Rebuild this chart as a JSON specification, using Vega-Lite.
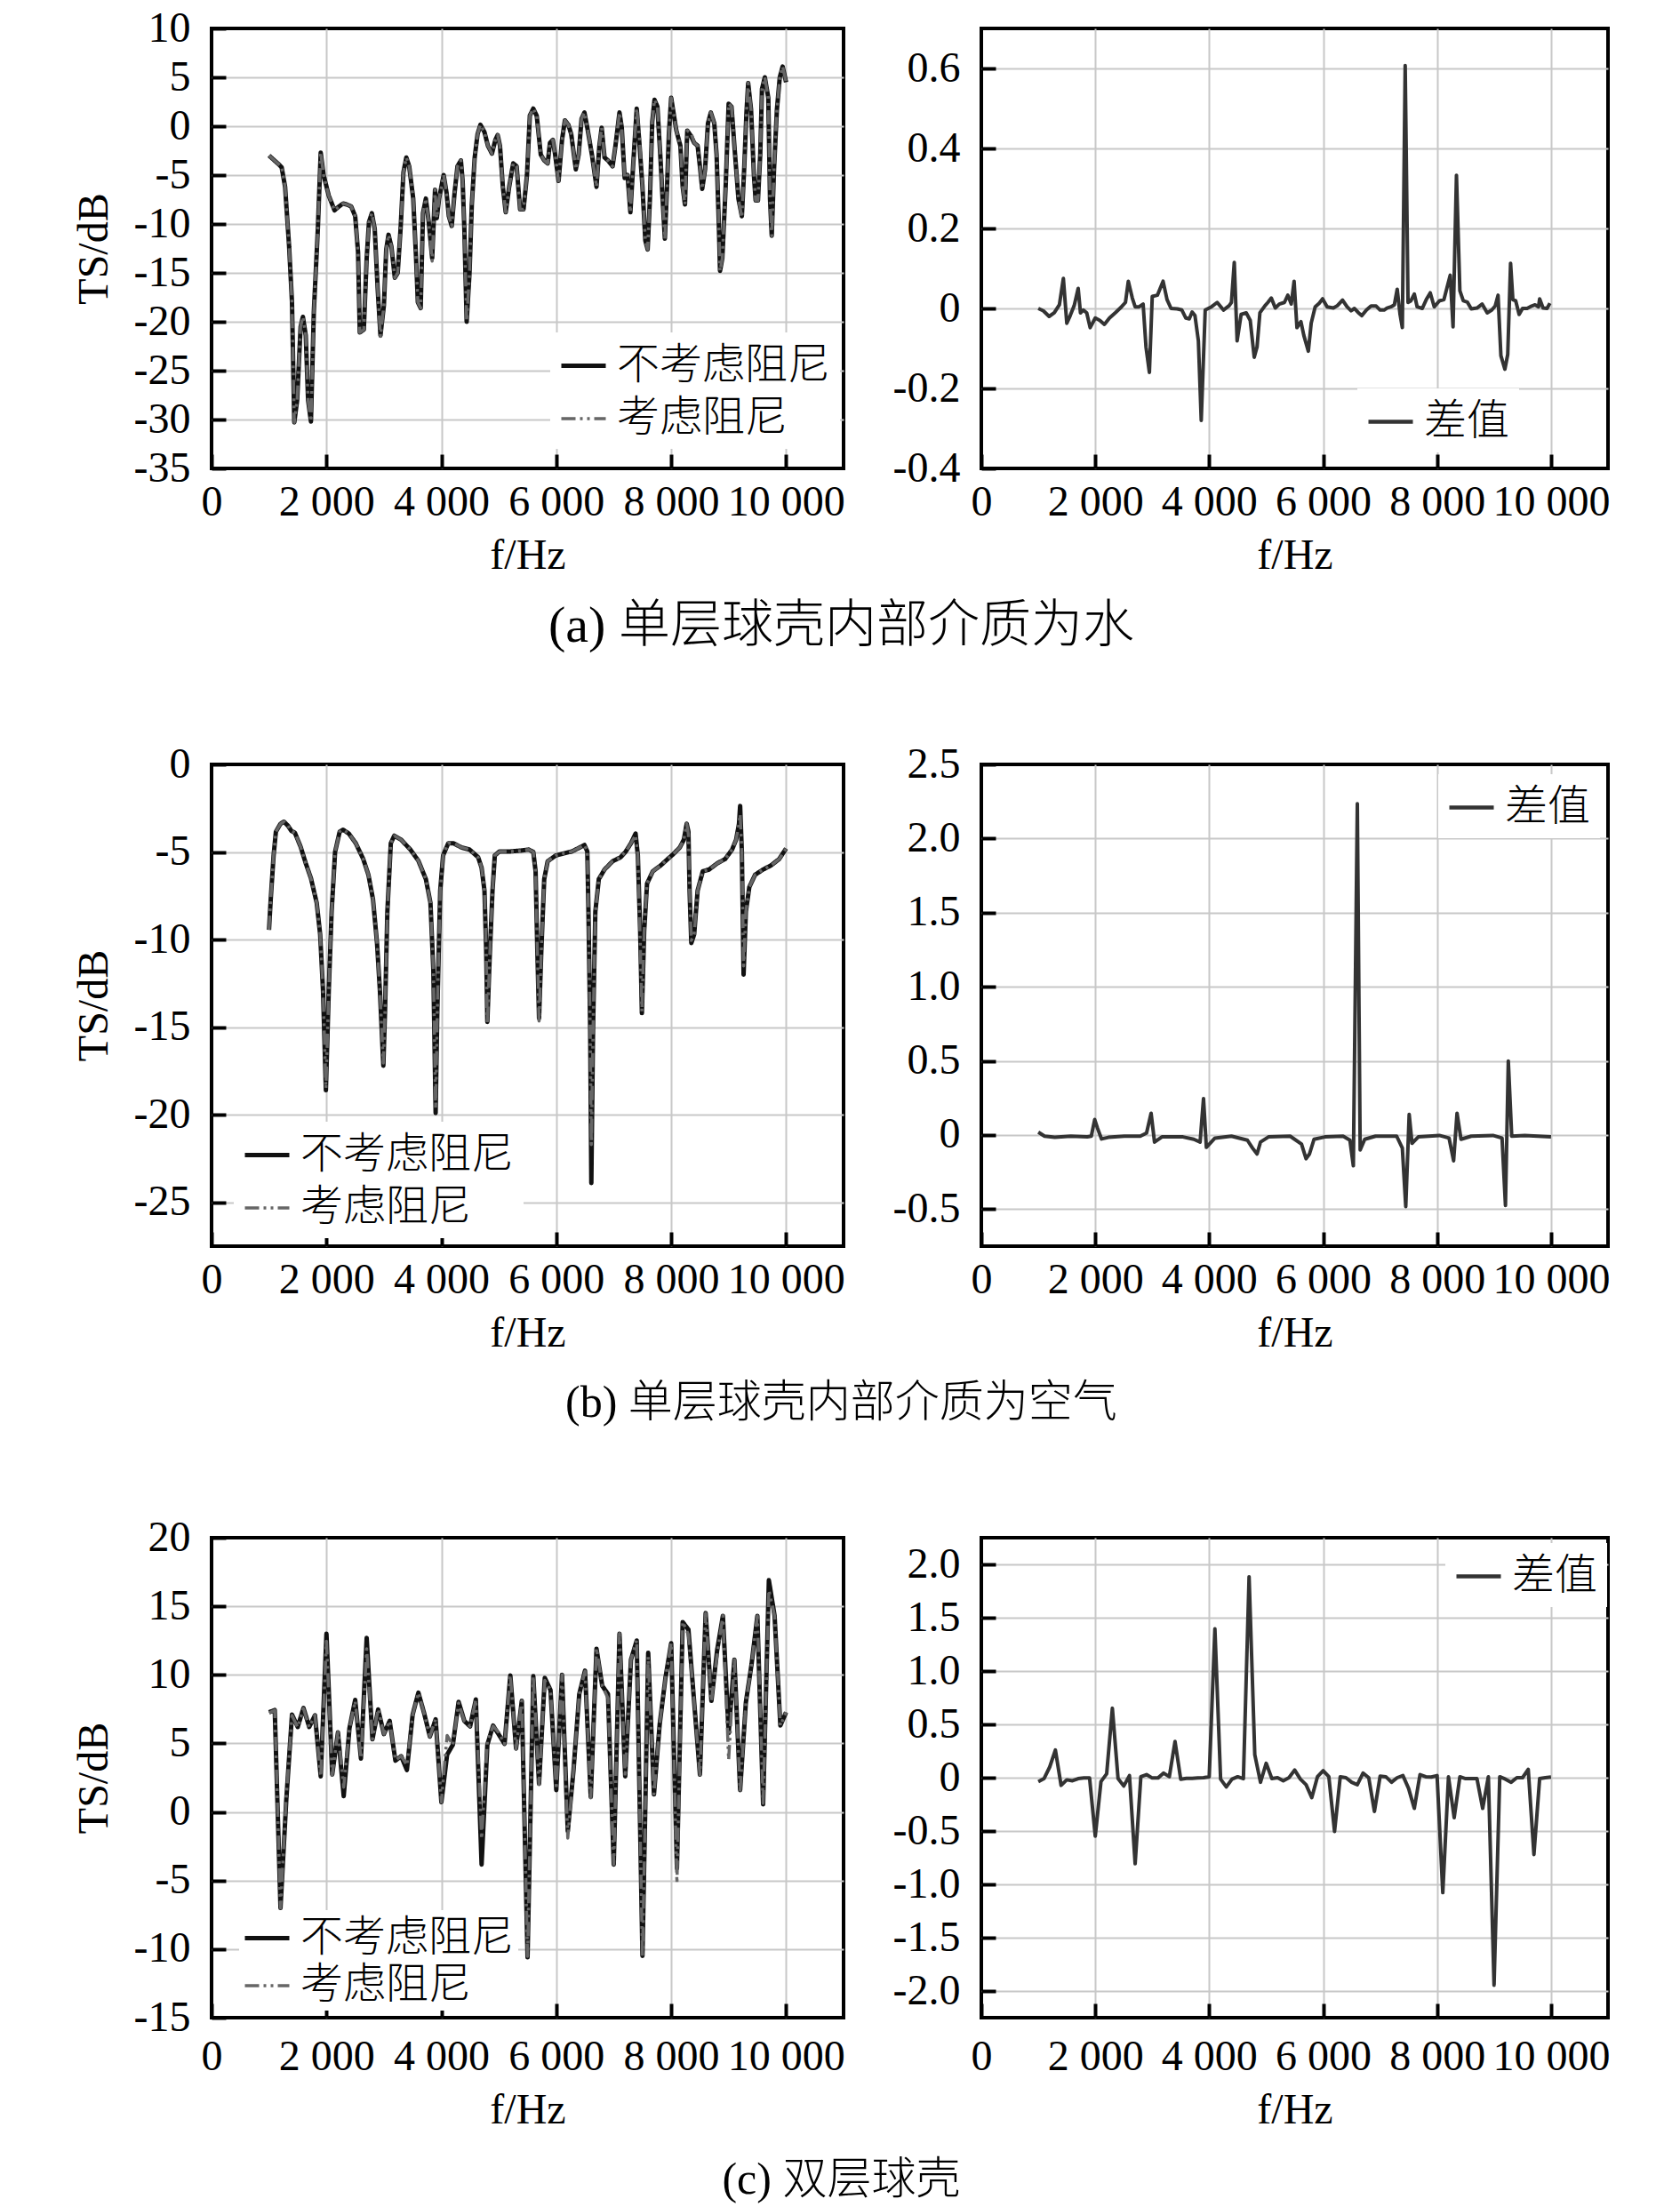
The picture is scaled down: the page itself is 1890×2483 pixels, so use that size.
{
"$schema": "https://vega.github.io/schema/vega-lite/v6.json",
"background": "white",
"padding": {"left": 80, "top": 6, "right": 5, "bottom": 5},
"config": {
  "font": "'Liberation Serif', 'Noto Sans CJK SC', serif",
  "view": {"stroke": "#000000", "strokeWidth": 4},
  "axis": {"grid": true, "gridColor": "#c8c8c8", "gridWidth": 2, "domain": false, "tickColor": "#000000", "tickWidth": 4, "tickSize": -16, "labelFontSize": 48, "labelColor": "#000000", "titleFontSize": 48, "titleFontWeight": "normal", "titleColor": "#000000", "labelOverlap": false, "labelFlush": false, "labelBound": false},
  "axisX": {"labelPadding": 30, "titlePadding": 12},
  "axisY": {"labelPadding": 40, "titlePadding": 20},
  "legend": {"fillColor": "white", "padding": 10, "labelFontSize": 48, "labelColor": "#000000", "labelLimit": 0, "symbolType": "stroke", "symbolSize": 2500, "symbolStrokeWidth": 4.5, "labelOffset": 10, "labelFontWeight": 300},
  "title": {"fontSize": 50, "fontWeight": 300, "color": "#000000"},
  "line": {"strokeJoin": "round"}
},
"datasets": {
"aL": [
{"f":1000,"u":-3.0,"d":-3.0},{"f":1170,"u":-3.9,"d":-3.9},{"f":1220,"u":-4.2,"d":-4.2},{"f":1280,"u":-6.2,"d":-6.2},{"f":1350,"u":-12.3,"d":-12.3},{"f":1400,"u":-18,"d":-18},{"f":1440,"u":-30.3,"d":-30.3},{"f":1490,"u":-28,"d":-28},{"f":1550,"u":-20.5,"d":-20.5},{"f":1590,"u":-19.5,"d":-19.5},{"f":1640,"u":-21.4,"d":-21.4},{"f":1680,"u":-28,"d":-28},{"f":1730,"u":-30.2,"d":-30.2},{"f":1780,"u":-19,"d":-19},{"f":1850,"u":-10.5,"d":-10.5},{"f":1900,"u":-2.7,"d":-2.7},{"f":1950,"u":-5,"d":-5},{"f":2040,"u":-7.1,"d":-7.1},{"f":2140,"u":-8.6,"d":-8.6},{"f":2220,"u":-8.2,"d":-8.2},{"f":2290,"u":-7.9,"d":-7.9},{"f":2350,"u":-8,"d":-8},{"f":2430,"u":-8.2,"d":-8.2},{"f":2500,"u":-9.2,"d":-9.2},{"f":2550,"u":-12.9,"d":-12.9},{"f":2580,"u":-21.1,"d":-21.1},{"f":2650,"u":-20.8,"d":-20.8},{"f":2700,"u":-13.5,"d":-13.5},{"f":2740,"u":-9.8,"d":-9.8},{"f":2790,"u":-8.9,"d":-8.9},{"f":2840,"u":-10.5,"d":-10.5},{"f":2890,"u":-16.5,"d":-16.5},{"f":2940,"u":-21.4,"d":-21.5},{"f":3000,"u":-18.3,"d":-18.3},{"f":3040,"u":-12.6,"d":-12.6},{"f":3080,"u":-11.1,"d":-11.1},{"f":3130,"u":-12.3,"d":-12.3},{"f":3190,"u":-15.5,"d":-15.5},{"f":3240,"u":-15,"d":-15},{"f":3290,"u":-10.5,"d":-10.5},{"f":3340,"u":-4.7,"d":-4.7},{"f":3390,"u":-3.2,"d":-3.2},{"f":3440,"u":-4.1,"d":-4.1},{"f":3510,"u":-7.4,"d":-7.4},{"f":3560,"u":-13.5,"d":-13.5},{"f":3590,"u":-18,"d":-18},{"f":3640,"u":-18.6,"d":-18.6},{"f":3680,"u":-8.9,"d":-8.9},{"f":3730,"u":-7.4,"d":-7.4},{"f":3780,"u":-9.8,"d":-9.8},{"f":3840,"u":-13.5,"d":-13.8},{"f":3890,"u":-6.5,"d":-6.5},{"f":3920,"u":-9.4,"d":-9.4},{"f":3960,"u":-7.4,"d":-7.4},{"f":4040,"u":-5,"d":-5},{"f":4090,"u":-6.8,"d":-6.8},{"f":4130,"u":-9.2,"d":-9.2},{"f":4180,"u":-10.2,"d":-10.2},{"f":4230,"u":-6.8,"d":-6.8},{"f":4280,"u":-4.1,"d":-4.1},{"f":4340,"u":-3.5,"d":-3.5},{"f":4370,"u":-5.6,"d":-5.6},{"f":4400,"u":-10.5,"d":-10.5},{"f":4440,"u":-20,"d":-19.9},{"f":4490,"u":-15,"d":-15},{"f":4530,"u":-8,"d":-8},{"f":4580,"u":-3.2,"d":-3.2},{"f":4630,"u":-0.8,"d":-0.8},{"f":4680,"u":0.15,"d":0.15},{"f":4750,"u":-0.6,"d":-0.6},{"f":4810,"u":-2,"d":-2},{"f":4880,"u":-2.8,"d":-2.8},{"f":4940,"u":-1.4,"d":-1.4},{"f":4980,"u":-0.9,"d":-0.9},{"f":5020,"u":-2,"d":-2},{"f":5070,"u":-6.2,"d":-6.2},{"f":5120,"u":-8.8,"d":-8.8},{"f":5180,"u":-6.2,"d":-6.2},{"f":5250,"u":-3.8,"d":-3.8},{"f":5310,"u":-4.1,"d":-4.1},{"f":5370,"u":-8.5,"d":-8.5},{"f":5430,"u":-8.5,"d":-8.5},{"f":5490,"u":-5,"d":-5},{"f":5540,"u":1.1,"d":1.1},{"f":5600,"u":1.8,"d":1.8},{"f":5660,"u":1.06,"d":1.06},{"f":5730,"u":-2.9,"d":-2.9},{"f":5790,"u":-3.5,"d":-3.5},{"f":5850,"u":-3.8,"d":-3.8},{"f":5890,"u":-1.7,"d":-1.7},{"f":5940,"u":-1.4,"d":-1.4},{"f":5980,"u":-2.9,"d":-2.9},{"f":6040,"u":-5.6,"d":-5.6},{"f":6100,"u":-1.4,"d":-1.4},{"f":6150,"u":0.6,"d":0.6},{"f":6210,"u":0.15,"d":0.15},{"f":6260,"u":-0.8,"d":-0.8},{"f":6340,"u":-4.4,"d":-4.4},{"f":6390,"u":-2.9,"d":-2.9},{"f":6440,"u":0.76,"d":0.76},{"f":6490,"u":1.4,"d":1.4},{"f":6540,"u":-0.15,"d":-0.15},{"f":6620,"u":-2.9,"d":-2.9},{"f":6700,"u":-6.2,"d":-6.2},{"f":6750,"u":-2,"d":-2},{"f":6790,"u":-0.15,"d":-0.15},{"f":6840,"u":-3.2,"d":-3.2},{"f":6900,"u":-3.5,"d":-3.5},{"f":6980,"u":-4.1,"d":-4.1},{"f":7030,"u":-2,"d":-2},{"f":7100,"u":1.4,"d":1.4},{"f":7140,"u":-0.15,"d":-0.15},{"f":7190,"u":-5.3,"d":-5.3},{"f":7240,"u":-5,"d":-5},{"f":7290,"u":-8.8,"d":-8.8},{"f":7340,"u":-3.8,"d":-3.8},{"f":7400,"u":1.8,"d":1.8},{"f":7450,"u":-2,"d":-1.4},{"f":7500,"u":-6.2,"d":-6.2},{"f":7550,"u":-11.7,"d":-11.7},{"f":7590,"u":-12.6,"d":-12.6},{"f":7630,"u":-7.4,"d":-7.4},{"f":7670,"u":0.45,"d":0.45},{"f":7710,"u":2.7,"d":2.7},{"f":7760,"u":2,"d":2},{"f":7810,"u":-2.9,"d":-2.9},{"f":7850,"u":-7.4,"d":-7.4},{"f":7890,"u":-11.5,"d":-11.5},{"f":7930,"u":-5.9,"d":-5.9},{"f":7960,"u":-0.76,"d":-0.76},{"f":8000,"u":2.9,"d":2.9},{"f":8040,"u":1.4,"d":1.4},{"f":8090,"u":-0.45,"d":-0.45},{"f":8160,"u":-2,"d":-2},{"f":8200,"u":-6.2,"d":-6.2},{"f":8240,"u":-8,"d":-8},{"f":8270,"u":-2,"d":-2},{"f":8280,"u":-0.45,"d":-0.45},{"f":8350,"u":-1.06,"d":-0.73},{"f":8400,"u":-1.7,"d":-1.7},{"f":8460,"u":-2,"d":-2},{"f":8500,"u":-4.1,"d":-4.1},{"f":8540,"u":-6.4,"d":-6.4},{"f":8590,"u":-4.4,"d":-4.4},{"f":8640,"u":0.3,"d":0.3},{"f":8690,"u":1.4,"d":1.4},{"f":8750,"u":0.3,"d":0.3},{"f":8790,"u":-2.9,"d":-2.9},{"f":8830,"u":-10.2,"d":-10.2},{"f":8850,"u":-14.8,"d":-14.8},{"f":8890,"u":-13.5,"d":-13.5},{"f":8950,"u":-5.9,"d":-5.9},{"f":9000,"u":2.3,"d":2.3},{"f":9050,"u":2,"d":2},{"f":9100,"u":-2,"d":-2},{"f":9170,"u":-7.4,"d":-7.4},{"f":9230,"u":-9.2,"d":-9.35},{"f":9270,"u":-4.4,"d":-4.4},{"f":9310,"u":1.4,"d":1.4},{"f":9340,"u":4.4,"d":4.4},{"f":9390,"u":1.7,"d":1.7},{"f":9440,"u":-5,"d":-5},{"f":9470,"u":-7.6,"d":-7.6},{"f":9510,"u":-7.6,"d":-7.6},{"f":9550,"u":-2.9,"d":-2.9},{"f":9580,"u":3.8,"d":3.8},{"f":9630,"u":5,"d":5},{"f":9690,"u":2.9,"d":2.9},{"f":9720,"u":-7.4,"d":-7.4},{"f":9750,"u":-11.2,"d":-11.2},{"f":9790,"u":-4.4,"d":-4.4},{"f":9840,"u":1.7,"d":1.7},{"f":9890,"u":5,"d":5},{"f":9940,"u":6.1,"d":6.1},{"f":10000,"u":4.5,"d":4.5}
],
"aR": [
{"f":1000,"v":0},{"f":1090,"v":-0.006},{"f":1190,"v":-0.02},{"f":1280,"v":-0.011},{"f":1370,"v":0.009},{"f":1440,"v":0.075},{"f":1500,"v":-0.037},{"f":1560,"v":-0.018},{"f":1630,"v":0.007},{"f":1700,"v":0.05},{"f":1740,"v":-0.011},{"f":1790,"v":-0.004},{"f":1850,"v":-0.011},{"f":1910,"v":-0.048},{"f":2000,"v":-0.024},{"f":2080,"v":-0.03},{"f":2160,"v":-0.04},{"f":2250,"v":-0.024},{"f":2350,"v":-0.011},{"f":2460,"v":0.004},{"f":2530,"v":0.015},{"f":2580,"v":0.068},{"f":2650,"v":0.026},{"f":2700,"v":0.004},{"f":2770,"v":0.004},{"f":2840,"v":0.011},{"f":2890,"v":-0.096},{"f":2950,"v":-0.16},{"f":3000,"v":0.03},{"f":3090,"v":0.033},{"f":3190,"v":0.068},{"f":3260,"v":0.022},{"f":3330,"v":0},{"f":3440,"v":-0.001},{"f":3520,"v":-0.004},{"f":3590,"v":-0.024},{"f":3650,"v":-0.026},{"f":3700,"v":-0.009},{"f":3750,"v":-0.018},{"f":3810,"v":-0.081},{"f":3860,"v":-0.28},{"f":3930,"v":-0.004},{"f":4040,"v":0.004},{"f":4140,"v":0.015},{"f":4250,"v":-0.004},{"f":4350,"v":0.007},{"f":4390,"v":0.015},{"f":4440,"v":0.115},{"f":4490,"v":-0.081},{"f":4560,"v":-0.015},{"f":4650,"v":-0.011},{"f":4720,"v":-0.03},{"f":4790,"v":-0.122},{"f":4840,"v":-0.096},{"f":4890,"v":-0.011},{"f":4980,"v":0.007},{"f":5030,"v":0.015},{"f":5090,"v":0.026},{"f":5160,"v":0.001},{"f":5230,"v":0.011},{"f":5320,"v":0.015},{"f":5380,"v":0.033},{"f":5440,"v":0.011},{"f":5490,"v":0.068},{"f":5540,"v":-0.048},{"f":5610,"v":-0.033},{"f":5660,"v":-0.067},{"f":5740,"v":-0.107},{"f":5790,"v":-0.037},{"f":5860,"v":0.004},{"f":5930,"v":0.013},{"f":5990,"v":0.024},{"f":6070,"v":0.004},{"f":6180,"v":0.001},{"f":6250,"v":0.007},{"f":6340,"v":0.021},{"f":6420,"v":0.004},{"f":6490,"v":-0.006},{"f":6550,"v":0},{"f":6620,"v":-0.011},{"f":6680,"v":-0.018},{"f":6760,"v":-0.004},{"f":6840,"v":0.006},{"f":6930,"v":0.006},{"f":7000,"v":-0.004},{"f":7070,"v":-0.004},{"f":7120,"v":0.001},{"f":7190,"v":0.004},{"f":7250,"v":0.009},{"f":7300,"v":0.048},{"f":7350,"v":-0.015},{"f":7390,"v":-0.048},{"f":7440,"v":0.607},{"f":7490,"v":0.015},{"f":7540,"v":0.019},{"f":7600,"v":0.036},{"f":7650,"v":0.004},{"f":7740,"v":0},{"f":7810,"v":0.022},{"f":7880,"v":0.039},{"f":7950,"v":0.004},{"f":8040,"v":0.019},{"f":8120,"v":0.022},{"f":8230,"v":0.083},{"f":8280,"v":-0.046},{"f":8340,"v":0.333},{"f":8400,"v":0.044},{"f":8460,"v":0.019},{"f":8530,"v":0.016},{"f":8600,"v":-0.001},{"f":8700,"v":0.001},{"f":8790,"v":0.011},{"f":8880,"v":-0.011},{"f":8960,"v":-0.004},{"f":9020,"v":0.006},{"f":9070,"v":0.033},{"f":9120,"v":-0.118},{"f":9190,"v":-0.152},{"f":9240,"v":-0.115},{"f":9290,"v":0.113},{"f":9330,"v":0.022},{"f":9380,"v":0.019},{"f":9440,"v":-0.015},{"f":9500,"v":0},{"f":9580,"v":0},{"f":9660,"v":0.006},{"f":9720,"v":0.009},{"f":9780,"v":0.004},{"f":9800,"v":0.024},{"f":9860,"v":0.001},{"f":9930,"v":0},{"f":9980,"v":0.013}
],
"bL": [
{"f":1000,"u":-9.44,"d":-9.44},{"f":1030,"u":-7.7,"d":-7.7},{"f":1080,"u":-5.2,"d":-5.2},{"f":1120,"u":-3.84,"d":-3.84},{"f":1200,"u":-3.39,"d":-3.39},{"f":1260,"u":-3.27,"d":-3.27},{"f":1330,"u":-3.5,"d":-3.5},{"f":1390,"u":-3.8,"d":-3.8},{"f":1450,"u":-3.9,"d":-3.9},{"f":1550,"u":-4.7,"d":-4.7},{"f":1640,"u":-5.65,"d":-5.65},{"f":1730,"u":-6.5,"d":-6.5},{"f":1830,"u":-7.9,"d":-7.9},{"f":1890,"u":-9.7,"d":-9.7},{"f":1940,"u":-12.9,"d":-12.9},{"f":1990,"u":-18.6,"d":-18.5},{"f":2040,"u":-12.9,"d":-12.9},{"f":2090,"u":-8.4,"d":-8.4},{"f":2150,"u":-5,"d":-5},{"f":2230,"u":-3.84,"d":-3.84},{"f":2290,"u":-3.73,"d":-3.73},{"f":2390,"u":-3.95,"d":-3.95},{"f":2510,"u":-4.5,"d":-4.5},{"f":2640,"u":-5.4,"d":-5.4},{"f":2730,"u":-6.3,"d":-6.3},{"f":2810,"u":-7.7,"d":-7.7},{"f":2880,"u":-10.2,"d":-10.2},{"f":2930,"u":-12.9,"d":-12.9},{"f":2990,"u":-17.2,"d":-17.05},{"f":3020,"u":-14,"d":-14},{"f":3060,"u":-8.4,"d":-8.4},{"f":3120,"u":-4.5,"d":-4.5},{"f":3180,"u":-4.07,"d":-4.07},{"f":3300,"u":-4.3,"d":-4.3},{"f":3460,"u":-4.86,"d":-4.86},{"f":3600,"u":-5.5,"d":-5.5},{"f":3730,"u":-6.55,"d":-6.55},{"f":3810,"u":-7.9,"d":-7.9},{"f":3860,"u":-11.7,"d":-11.7},{"f":3900,"u":-19.9,"d":-19.65},{"f":3930,"u":-14,"d":-14},{"f":3980,"u":-7.2,"d":-7.2},{"f":4030,"u":-5.2,"d":-5.2},{"f":4120,"u":-4.5,"d":-4.5},{"f":4210,"u":-4.5,"d":-4.5},{"f":4350,"u":-4.74,"d":-4.74},{"f":4490,"u":-4.86,"d":-4.86},{"f":4640,"u":-5.3,"d":-5.3},{"f":4700,"u":-5.9,"d":-5.9},{"f":4750,"u":-7.2,"d":-7.2},{"f":4780,"u":-10.6,"d":-10.6},{"f":4800,"u":-14.7,"d":-14.8},{"f":4840,"u":-11.1,"d":-11.1},{"f":4890,"u":-7.2,"d":-7.2},{"f":4930,"u":-5.2,"d":-5.2},{"f":5010,"u":-4.97,"d":-4.97},{"f":5200,"u":-4.97,"d":-4.97},{"f":5380,"u":-4.92,"d":-4.92},{"f":5520,"u":-4.86,"d":-4.86},{"f":5600,"u":-5,"d":-5},{"f":5640,"u":-6.1,"d":-6.1},{"f":5670,"u":-10.6,"d":-10.6},{"f":5700,"u":-14.5,"d":-14.65},{"f":5740,"u":-10.6,"d":-10.6},{"f":5790,"u":-6.55,"d":-6.55},{"f":5850,"u":-5.53,"d":-5.53},{"f":5990,"u":-5.2,"d":-5.2},{"f":6130,"u":-5.08,"d":-5.08},{"f":6270,"u":-4.97,"d":-4.97},{"f":6410,"u":-4.74,"d":-4.74},{"f":6490,"u":-4.6,"d":-4.6},{"f":6540,"u":-4.97,"d":-4.97},{"f":6560,"u":-8.4,"d":-8.6},{"f":6590,"u":-15.1,"d":-15.1},{"f":6610,"u":-23.9,"d":-21.7},{"f":6640,"u":-15.1,"d":-15.2},{"f":6680,"u":-8.4,"d":-8.4},{"f":6740,"u":-6.55,"d":-6.55},{"f":6840,"u":-6,"d":-6},{"f":6980,"u":-5.53,"d":-5.53},{"f":7120,"u":-5.3,"d":-5.3},{"f":7210,"u":-4.97,"d":-4.97},{"f":7300,"u":-4.5,"d":-4.5},{"f":7380,"u":-3.95,"d":-4.04},{"f":7420,"u":-5.2,"d":-5.2},{"f":7460,"u":-9.5,"d":-9.98},{"f":7490,"u":-14.2,"d":-14.1},{"f":7530,"u":-9.5,"d":-9.5},{"f":7580,"u":-6.8,"d":-6.8},{"f":7680,"u":-6.1,"d":-6.1},{"f":7820,"u":-5.76,"d":-5.76},{"f":7940,"u":-5.4,"d":-5.4},{"f":8050,"u":-5.08,"d":-5.08},{"f":8150,"u":-4.74,"d":-4.74},{"f":8220,"u":-4.3,"d":-4.3},{"f":8270,"u":-3.39,"d":-3.39},{"f":8300,"u":-3.84,"d":-4.0},{"f":8320,"u":-7.2,"d":-7.2},{"f":8350,"u":-10.2,"d":-10.05},{"f":8400,"u":-9.7,"d":-9.7},{"f":8460,"u":-7.2,"d":-7.2},{"f":8550,"u":-6.1,"d":-6.1},{"f":8660,"u":-6,"d":-6},{"f":8800,"u":-5.65,"d":-5.65},{"f":8940,"u":-5.4,"d":-5.4},{"f":9060,"u":-4.86,"d":-4.86},{"f":9130,"u":-4.3,"d":-4.3},{"f":9180,"u":-3.39,"d":-3.39},{"f":9200,"u":-2.37,"d":-2.85},{"f":9230,"u":-5,"d":-5},{"f":9260,"u":-12,"d":-11.5},{"f":9300,"u":-8.4,"d":-8.4},{"f":9360,"u":-7,"d":-7},{"f":9460,"u":-6.3,"d":-6.3},{"f":9600,"u":-6,"d":-6},{"f":9740,"u":-5.76,"d":-5.76},{"f":9880,"u":-5.4,"d":-5.4},{"f":10000,"u":-4.8,"d":-4.8}
],
"bR": [
{"f":1000,"v":0.019},{"f":1110,"v":-0.008},{"f":1290,"v":-0.016},{"f":1570,"v":-0.008},{"f":1860,"v":-0.013},{"f":1930,"v":-0.008},{"f":1990,"v":0.104},{"f":2040,"v":0.045},{"f":2110,"v":-0.027},{"f":2230,"v":-0.016},{"f":2510,"v":-0.008},{"f":2790,"v":-0.008},{"f":2900,"v":0.013},{"f":2980,"v":0.147},{"f":3040,"v":-0.048},{"f":3170,"v":-0.013},{"f":3540,"v":-0.013},{"f":3730,"v":-0.029},{"f":3840,"v":-0.048},{"f":3900,"v":0.246},{"f":3950,"v":-0.083},{"f":4100,"v":-0.021},{"f":4390,"v":-0.008},{"f":4670,"v":-0.035},{"f":4760,"v":-0.088},{"f":4840,"v":-0.128},{"f":4900,"v":-0.048},{"f":5040,"v":-0.013},{"f":5420,"v":-0.008},{"f":5620,"v":-0.061},{"f":5700,"v":-0.16},{"f":5760,"v":-0.128},{"f":5840,"v":-0.029},{"f":6030,"v":-0.013},{"f":6350,"v":-0.008},{"f":6470,"v":-0.035},{"f":6530,"v":-0.208},{"f":6600,"v":2.234},{"f":6650,"v":-0.101},{"f":6730,"v":-0.029},{"f":6920,"v":-0.008},{"f":7290,"v":-0.008},{"f":7390,"v":-0.088},{"f":7450,"v":-0.483},{"f":7510,"v":0.139},{"f":7560,"v":-0.056},{"f":7670,"v":-0.013},{"f":8040,"v":-0.003},{"f":8210,"v":-0.021},{"f":8290,"v":-0.174},{"f":8350,"v":0.147},{"f":8420,"v":-0.029},{"f":8600,"v":-0.008},{"f":8980,"v":-0.003},{"f":9140,"v":-0.021},{"f":9200,"v":-0.475},{"f":9250,"v":0.499},{"f":9310,"v":-0.008},{"f":9540,"v":-0.003},{"f":10000,"v":-0.013}
],
"cL": [
{"f":1000,"u":7.27,"d":7.23},{"f":1100,"u":7.43,"d":7.42},{"f":1200,"u":-7.0,"d":-7.0},{"f":1300,"u":0.83,"d":1.09},{"f":1400,"u":7.1,"d":7.03},{"f":1500,"u":6.2,"d":6.18},{"f":1600,"u":7.58,"d":7.55},{"f":1700,"u":6.2,"d":6.19},{"f":1800,"u":7.05,"d":7.05},{"f":1900,"u":2.6,"d":2.6},{"f":2000,"u":13.0,"d":12.45},{"f":2100,"u":2.73,"d":2.69},{"f":2200,"u":5.8,"d":5.84},{"f":2300,"u":1.16,"d":1.81},{"f":2400,"u":6.1,"d":6.09},{"f":2500,"u":8.17,"d":8.09},{"f":2600,"u":3.9,"d":3.92},{"f":2700,"u":12.7,"d":11.9},{"f":2800,"u":5.3,"d":5.31},{"f":2900,"u":7.47,"d":7.5},{"f":3000,"u":5.68,"d":5.68},{"f":3100,"u":6.64,"d":6.64},{"f":3200,"u":3.74,"d":3.78},{"f":3300,"u":4.07,"d":4.08},{"f":3400,"u":3.06,"d":3.4},{"f":3500,"u":7.1,"d":7.09},{"f":3600,"u":8.7,"d":8.69},{"f":3700,"u":7.2,"d":7.19},{"f":3800,"u":5.5,"d":5.5},{"f":3900,"u":6.76,"d":6.76},{"f":4000,"u":0.72,"d":0.73},{"f":4100,"u":4.18,"d":5.58},{"f":4200,"u":4.9,"d":4.89},{"f":4300,"u":8.03,"d":7.94},{"f":4400,"u":6.64,"d":6.63},{"f":4500,"u":6.24,"d":6.25},{"f":4600,"u":8.2,"d":8.19},{"f":4700,"u":-3.83,"d":-1.95},{"f":4800,"u":4.9,"d":5.12},{"f":4900,"u":6.3,"d":6.26},{"f":5000,"u":5.64,"d":5.78},{"f":5100,"u":4.97,"d":4.96},{"f":5200,"u":9.96,"d":9.96},{"f":5300,"u":4.63,"d":4.6},{"f":5400,"u":8.1,"d":8.1},{"f":5500,"u":-10.6,"d":-10.53},{"f":5600,"u":9.9,"d":9.89},{"f":5700,"u":2.06,"d":2.0},{"f":5800,"u":9.78,"d":9.59},{"f":5900,"u":8.88,"d":8.89},{"f":6000,"u":1.6,"d":1.67},{"f":6100,"u":10.0,"d":10.01},{"f":6200,"u":-1.4,"d":-1.9},{"f":6300,"u":3.06,"d":3.07},{"f":6400,"u":8.6,"d":8.6},{"f":6500,"u":10.3,"d":10.26},{"f":6600,"u":1.1,"d":1.03},{"f":6700,"u":11.9,"d":11.94},{"f":6800,"u":9.2,"d":9.2},{"f":6900,"u":8.6,"d":8.28},{"f":7000,"u":-3.83,"d":-3.82},{"f":7100,"u":13.0,"d":13.01},{"f":7200,"u":2.6,"d":2.56},{"f":7300,"u":11.1,"d":11.1},{"f":7400,"u":12.5,"d":12.52},{"f":7500,"u":-10.5,"d":-10.6},{"f":7600,"u":11.6,"d":11.31},{"f":7700,"u":1.28,"d":1.31},{"f":7800,"u":6.4,"d":6.41},{"f":7900,"u":9.78,"d":9.79},{"f":8000,"u":12.3,"d":12.32},{"f":8100,"u":-4.1,"d":-5.18},{"f":8200,"u":13.85,"d":13.86},{"f":8300,"u":13.3,"d":12.93},{"f":8400,"u":8.0,"d":8.01},{"f":8500,"u":2.73,"d":2.72},{"f":8600,"u":14.5,"d":14.49},{"f":8700,"u":8.1,"d":8.09},{"f":8800,"u":11.8,"d":11.51},{"f":8900,"u":14.3,"d":14.31},{"f":9000,"u":5.75,"d":3.8},{"f":9100,"u":11.1,"d":11.11},{"f":9200,"u":1.6,"d":1.59},{"f":9300,"u":8.0,"d":7.96},{"f":9400,"u":10.8,"d":10.8},{"f":9500,"u":14.3,"d":14.3},{"f":9600,"u":0.56,"d":0.64},{"f":9700,"u":16.9,"d":16.18},{"f":9800,"u":14.3,"d":14.29},{"f":9900,"u":6.3,"d":6.3},{"f":10000,"u":7.27,"d":7.28}
],
"cR": [
{"f":1000,"v":-0.037},{"f":1100,"v":-0.009},{"f":1200,"v":0.1},{"f":1300,"v":0.26},{"f":1400,"v":-0.072},{"f":1500,"v":-0.02},{"f":1600,"v":-0.029},{"f":1700,"v":-0.009},{"f":1800,"v":-0.003},{"f":1900,"v":-0.003},{"f":2000,"v":-0.548},{"f":2100,"v":-0.037},{"f":2200,"v":0.037},{"f":2300,"v":0.651},{"f":2400,"v":-0.009},{"f":2500,"v":-0.078},{"f":2600,"v":0.02},{"f":2700,"v":-0.807},{"f":2800,"v":0.009},{"f":2900,"v":0.029},{"f":3000,"v":-0.003},{"f":3100,"v":-0.003},{"f":3200,"v":0.043},{"f":3300,"v":0.009},{"f":3400,"v":0.34},{"f":3500,"v":-0.014},{"f":3600,"v":-0.006},{"f":3700,"v":-0.006},{"f":3800,"v":-0.003},{"f":3900,"v":0},{"f":4000,"v":0.009},{"f":4100,"v":1.395},{"f":4200,"v":-0.014},{"f":4300,"v":-0.086},{"f":4400,"v":-0.014},{"f":4500,"v":0.009},{"f":4600,"v":-0.009},{"f":4700,"v":1.884},{"f":4800,"v":0.216},{"f":4900,"v":-0.043},{"f":5000,"v":0.135},{"f":5100,"v":-0.009},{"f":5200,"v":0},{"f":5300,"v":-0.029},{"f":5400,"v":0},{"f":5500,"v":0.072},{"f":5600,"v":-0.014},{"f":5700,"v":-0.066},{"f":5800,"v":-0.187},{"f":5900,"v":0.009},{"f":6000,"v":0.066},{"f":6100,"v":0.009},{"f":6200,"v":-0.504},{"f":6300,"v":0.009},{"f":6400,"v":0},{"f":6500,"v":-0.043},{"f":6600,"v":-0.066},{"f":6700,"v":0.043},{"f":6800,"v":0},{"f":6900,"v":-0.317},{"f":7000,"v":0.014},{"f":7100,"v":0.009},{"f":7200,"v":-0.043},{"f":7300,"v":0},{"f":7400,"v":0.02},{"f":7500,"v":-0.101},{"f":7600,"v":-0.288},{"f":7700,"v":0.029},{"f":7800,"v":0.009},{"f":7900,"v":0.006},{"f":8000,"v":0.02},{"f":8100,"v":-1.078},{"f":8200,"v":0.009},{"f":8300,"v":-0.375},{"f":8400,"v":0.009},{"f":8500,"v":-0.009},{"f":8600,"v":-0.009},{"f":8700,"v":-0.009},{"f":8800,"v":-0.288},{"f":8900,"v":0.009},{"f":9000,"v":-1.945},{"f":9100,"v":0.009},{"f":9200,"v":-0.014},{"f":9300,"v":-0.043},{"f":9400,"v":0},{"f":9500,"v":0},{"f":9600,"v":0.078},{"f":9700,"v":-0.72},{"f":9800,"v":-0.009},{"f":9900,"v":0},{"f":10000,"v":0.006}
]
},
"vconcat": [
{
 "title": {"text": "(a) 单层球壳内部介质为水", "orient": "bottom", "anchor": "middle", "offset": 25, "fontSize": 58},
 "spacing": 49,
 "hconcat": [
  {
   "width": 711, "height": 495,
   "data": {"name": "aL"},
   "transform": [{"fold": ["u", "d"], "as": ["s", "ts"]}],
   "mark": {"type": "line"},
   "encoding": {
    "x": {"field": "f", "type": "quantitative", "scale": {"domain": [0, 11000], "nice": false, "zero": false}, "axis": {"title": "f/Hz", "values": [0, 2000, 4000, 6000, 8000, 10000], "labelExpr": "replace(format(datum.value, ','), ',', ' ')", "gridColor": {"condition": {"test": "datum.value == 0", "value": "transparent"}, "value": "#c8c8c8"}}},
    "y": {"field": "ts", "type": "quantitative", "scale": {"domain": [-35, 10], "nice": false, "zero": false}, "axis": {"title": "TS/dB", "values": [-35, -30, -25, -20, -15, -10, -5, 0, 5, 10], "labelExpr": "(datum.value < 0 ? '-' : '') + format(abs(datum.value), 'd')", "gridColor": {"condition": {"test": "datum.value == 10 || datum.value == -35", "value": "transparent"}, "value": "#c8c8c8"}}},
    "color": {"field": "s", "type": "nominal", "scale": {"domain": ["u", "d"], "range": ["#111111", "#666666"]}, "legend": {"title": null, "orient": "none", "legendX": 381, "legendY": 342, "rowPadding": 8, "labelExpr": "datum.value == 'u' ? '不考虑阻尼' : '考虑阻尼'"}},
    "strokeDash": {"field": "s", "type": "nominal", "scale": {"domain": ["u", "d"], "range": [[1, 0], [16, 5, 3, 5, 3, 5]]}, "legend": {"title": null, "orient": "none", "legendX": 381, "legendY": 342, "rowPadding": 8, "labelExpr": "datum.value == 'u' ? '不考虑阻尼' : '考虑阻尼'"}},
    "strokeWidth": {"field": "s", "type": "nominal", "scale": {"domain": ["u", "d"], "range": [5, 3.5]}, "legend": null}
   }
  },
  {
   "width": 705, "height": 495,
   "data": {"name": "aR"},
   "mark": {"type": "line", "strokeWidth": 4},
   "encoding": {
    "x": {"field": "f", "type": "quantitative", "scale": {"domain": [0, 11000], "nice": false, "zero": false}, "axis": {"title": "f/Hz", "values": [0, 2000, 4000, 6000, 8000, 10000], "labelExpr": "replace(format(datum.value, ','), ',', ' ')", "gridColor": {"condition": {"test": "datum.value == 0", "value": "transparent"}, "value": "#c8c8c8"}}},
    "y": {"field": "v", "type": "quantitative", "scale": {"domain": [-0.4, 0.7], "nice": false, "zero": false}, "axis": {"title": null, "values": [-0.4, -0.2, 0, 0.2, 0.4, 0.6], "labelExpr": "datum.value == 0 ? '0' : (datum.value < 0 ? '-' : '') + format(abs(datum.value), '.1f')", "gridColor": {"condition": {"test": "datum.value == -0.4", "value": "transparent"}, "value": "#c8c8c8"}}},
    "color": {"datum": "差值", "type": "nominal", "scale": {"range": ["#333333"]}, "legend": {"title": null, "orient": "none", "legendX": 423, "legendY": 405}}
   }
  }
 ],
 "resolve": {"scale": {"color": "independent", "strokeDash": "independent", "strokeWidth": "independent", "x": "independent", "y": "independent"}, "legend": {"color": "independent", "strokeDash": "independent"}}
},
{
 "title": {"text": "(b) 单层球壳内部介质为空气", "orient": "bottom", "anchor": "middle", "offset": 28},
 "spacing": 49,
 "hconcat": [
  {
   "width": 711, "height": 542,
   "data": {"name": "bL"},
   "transform": [{"fold": ["u", "d"], "as": ["s", "ts"]}],
   "mark": {"type": "line"},
   "encoding": {
    "x": {"field": "f", "type": "quantitative", "scale": {"domain": [0, 11000], "nice": false, "zero": false}, "axis": {"title": "f/Hz", "values": [0, 2000, 4000, 6000, 8000, 10000], "labelExpr": "replace(format(datum.value, ','), ',', ' ')", "gridColor": {"condition": {"test": "datum.value == 0", "value": "transparent"}, "value": "#c8c8c8"}}},
    "y": {"field": "ts", "type": "quantitative", "scale": {"domain": [-27.5, 0], "nice": false, "zero": false}, "axis": {"title": "TS/dB", "values": [-25, -20, -15, -10, -5, 0], "labelExpr": "(datum.value < 0 ? '-' : '') + format(abs(datum.value), 'd')", "gridColor": {"condition": {"test": "datum.value == 0", "value": "transparent"}, "value": "#c8c8c8"}}},
    "color": {"field": "s", "type": "nominal", "scale": {"domain": ["u", "d"], "range": ["#111111", "#666666"]}, "legend": {"title": null, "orient": "none", "legendX": 25, "legendY": 402, "rowPadding": 8, "labelExpr": "datum.value == 'u' ? '不考虑阻尼' : '考虑阻尼'"}},
    "strokeDash": {"field": "s", "type": "nominal", "scale": {"domain": ["u", "d"], "range": [[1, 0], [16, 5, 3, 5, 3, 5]]}, "legend": {"title": null, "orient": "none", "legendX": 25, "legendY": 402, "rowPadding": 8, "labelExpr": "datum.value == 'u' ? '不考虑阻尼' : '考虑阻尼'"}},
    "strokeWidth": {"field": "s", "type": "nominal", "scale": {"domain": ["u", "d"], "range": [5, 3.5]}, "legend": null}
   }
  },
  {
   "width": 705, "height": 542,
   "data": {"name": "bR"},
   "mark": {"type": "line", "strokeWidth": 4},
   "encoding": {
    "x": {"field": "f", "type": "quantitative", "scale": {"domain": [0, 11000], "nice": false, "zero": false}, "axis": {"title": "f/Hz", "values": [0, 2000, 4000, 6000, 8000, 10000], "labelExpr": "replace(format(datum.value, ','), ',', ' ')", "gridColor": {"condition": {"test": "datum.value == 0", "value": "transparent"}, "value": "#c8c8c8"}}},
    "y": {"field": "v", "type": "quantitative", "scale": {"domain": [-0.75, 2.5], "nice": false, "zero": false}, "axis": {"title": null, "values": [-0.5, 0, 0.5, 1, 1.5, 2, 2.5], "labelExpr": "datum.value == 0 ? '0' : (datum.value < 0 ? '-' : '') + format(abs(datum.value), '.1f')", "gridColor": {"condition": {"test": "datum.value == 2.5", "value": "transparent"}, "value": "#c8c8c8"}}},
    "color": {"datum": "差值", "type": "nominal", "scale": {"range": ["#333333"]}, "legend": {"title": null, "orient": "none", "legendX": 514, "legendY": 11}}
   }
  }
 ],
 "resolve": {"scale": {"color": "independent", "strokeDash": "independent", "strokeWidth": "independent", "x": "independent", "y": "independent"}, "legend": {"color": "independent", "strokeDash": "independent"}}
},
{
 "title": {"text": "(c) 双层球壳", "orient": "bottom", "anchor": "middle", "offset": 28},
 "spacing": 49,
 "hconcat": [
  {
   "width": 711, "height": 540,
   "data": {"name": "cL"},
   "transform": [{"fold": ["u", "d"], "as": ["s", "ts"]}],
   "mark": {"type": "line"},
   "encoding": {
    "x": {"field": "f", "type": "quantitative", "scale": {"domain": [0, 11000], "nice": false, "zero": false}, "axis": {"title": "f/Hz", "values": [0, 2000, 4000, 6000, 8000, 10000], "labelExpr": "replace(format(datum.value, ','), ',', ' ')", "labelPadding": 36, "gridColor": {"condition": {"test": "datum.value == 0", "value": "transparent"}, "value": "#c8c8c8"}}},
    "y": {"field": "ts", "type": "quantitative", "scale": {"domain": [-15, 20], "nice": false, "zero": false}, "axis": {"title": "TS/dB", "values": [-15, -10, -5, 0, 5, 10, 15, 20], "labelExpr": "(datum.value < 0 ? '-' : '') + format(abs(datum.value), 'd')", "gridColor": {"condition": {"test": "datum.value == 20 || datum.value == -15", "value": "transparent"}, "value": "#c8c8c8"}}},
    "color": {"field": "s", "type": "nominal", "scale": {"domain": ["u", "d"], "range": ["#111111", "#666666"]}, "legend": {"title": null, "orient": "none", "legendX": 31, "legendY": 419, "padding": 4, "rowPadding": 2, "labelExpr": "datum.value == 'u' ? '不考虑阻尼' : '考虑阻尼'"}},
    "strokeDash": {"field": "s", "type": "nominal", "scale": {"domain": ["u", "d"], "range": [[1, 0], [16, 5, 3, 5, 3, 5]]}, "legend": {"title": null, "orient": "none", "legendX": 31, "legendY": 419, "padding": 4, "rowPadding": 2, "labelExpr": "datum.value == 'u' ? '不考虑阻尼' : '考虑阻尼'"}},
    "strokeWidth": {"field": "s", "type": "nominal", "scale": {"domain": ["u", "d"], "range": [5, 3.5]}, "legend": null}
   }
  },
  {
   "width": 705, "height": 540,
   "data": {"name": "cR"},
   "mark": {"type": "line", "strokeWidth": 4},
   "encoding": {
    "x": {"field": "f", "type": "quantitative", "scale": {"domain": [0, 11000], "nice": false, "zero": false}, "axis": {"title": "f/Hz", "values": [0, 2000, 4000, 6000, 8000, 10000], "labelExpr": "replace(format(datum.value, ','), ',', ' ')", "labelPadding": 36, "gridColor": {"condition": {"test": "datum.value == 0", "value": "transparent"}, "value": "#c8c8c8"}}},
    "y": {"field": "v", "type": "quantitative", "scale": {"domain": [-2.25, 2.25], "nice": false, "zero": false}, "axis": {"title": null, "values": [-2, -1.5, -1, -0.5, 0, 0.5, 1, 1.5, 2], "labelExpr": "datum.value == 0 ? '0' : (datum.value < 0 ? '-' : '') + format(abs(datum.value), '.1f')"}},
    "color": {"datum": "差值", "type": "nominal", "scale": {"range": ["#333333"]}, "legend": {"title": null, "orient": "none", "legendX": 522, "legendY": 6}}
   }
  }
 ],
 "resolve": {"scale": {"color": "independent", "strokeDash": "independent", "strokeWidth": "independent", "x": "independent", "y": "independent"}, "legend": {"color": "independent", "strokeDash": "independent"}}
}
],
"spacing": 100,
"resolve": {"scale": {"color": "independent", "strokeDash": "independent", "strokeWidth": "independent", "x": "independent", "y": "independent"}, "legend": {"color": "independent", "strokeDash": "independent"}}
}
